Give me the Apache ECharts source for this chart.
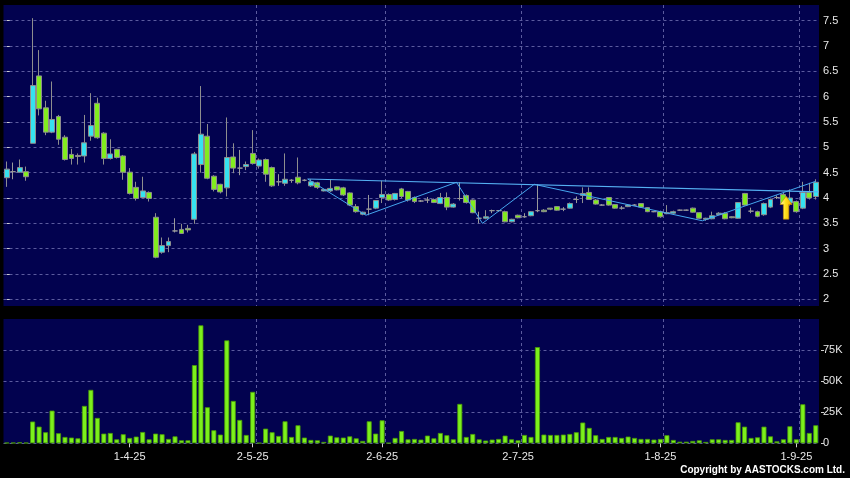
<!DOCTYPE html>
<html><head><meta charset="utf-8">
<script src="https://cdn.jsdelivr.net/npm/echarts@6/dist/echarts.min.js"></script>
<style>html,body{margin:0;padding:0;background:#000;}#c{width:850px;height:478px;}</style>
</head><body><div id="c"></div>
<script>
// ---- trading days (day numbers per month, 2025) ----
const marDays=[5,6,7,10,11,12,13,14,17,18,19,20,21,24,25,26,27,28,31];
const aprDays=[1,2,3,7,8,9,10,11,14,15,16,17,22,23,24,25,28,29,30];
const mayDays=[2,6,7,8,9,12,13,14,15,16,19,20,21,22,23,26,27,28,29,30];
const junDays=[2,3,4,5,6,9,10,11,12,13,16,17,18,19,20,23,24,25,26,27,30];
const julDays=[2,3,4,7,8,9,10,11,14,15,16,17,18,21,22,23,24,25,28,29,30,31];
const augDays=[1,4,5,6,7,8,11,12,13,14,15,18,19,20,21,22,25,26,27,28,29];
const sepDays=[1,2,3,4];
const tickLabels=['1-4-25','2-5-25','2-6-25','2-7-25','1-8-25','1-9-25'];
const priceTicks=[2,2.5,3,3.5,4,4.5,5,5.5,6,6.5,7,7.5];
const volumeTicks=[0,25000,50000,75000];

// ---- OHLC ----
const open=[4.40,4.52,4.51,4.52,5.08,6.41,5.78,5.30,5.61,5.20,
4.86,4.84,4.83,5.22,5.87,5.28,4.78,4.96,4.83,4.51,
4.21,4.01,4.11,3.62,2.93,3.06,3.35,3.38,3.40,3.58,
4.66,5.22,4.43,4.27,4.20,4.81,4.59,4.62,4.88,4.63,
4.76,4.60,4.32,4.29,4.35,4.41,4.35,4.24,4.30,4.14,
4.14,4.22,4.20,4.10,3.83,3.68,3.78,3.80,4.01,4.07,
3.97,4.18,4.13,4.01,3.94,3.96,3.97,3.89,4.01,3.82,
3.99,4.05,3.96,3.60,3.60,3.75,3.75,3.73,3.53,3.66,
3.63,3.65,3.75,3.76,3.80,3.83,3.78,3.80,3.97,4.05,
4.11,3.96,3.86,4.01,3.87,3.80,3.83,3.86,3.89,3.81,
3.73,3.73,3.69,3.70,3.76,3.76,3.80,3.71,3.58,3.59,
3.67,3.70,3.63,3.60,4.09,3.74,3.73,3.67,3.82,4.01,
4.07,3.90,3.93,3.80,4.11,4.03];
const close=[4.57,4.52,4.60,4.42,6.22,5.76,5.30,5.55,5.16,4.76,
4.78,4.82,5.09,5.43,5.19,4.78,4.87,4.80,4.51,4.09,
3.99,4.14,3.99,2.83,3.06,3.14,3.35,3.30,3.37,4.87,
5.26,4.39,4.17,4.12,4.80,4.59,4.59,4.66,4.68,4.75,
4.47,4.24,4.32,4.37,4.35,4.30,4.35,4.32,4.21,4.17,
4.19,4.16,4.06,3.86,3.73,3.72,3.78,3.95,4.07,3.96,
4.09,4.03,3.96,3.93,3.94,3.96,3.91,4.01,3.82,3.88,
3.99,3.91,3.71,3.60,3.63,3.75,3.75,3.53,3.58,3.61,
3.63,3.73,3.75,3.73,3.78,3.76,3.78,3.89,3.97,4.09,
3.97,3.88,3.86,3.86,3.80,3.80,3.86,3.86,3.82,3.73,
3.73,3.63,3.71,3.73,3.76,3.76,3.72,3.60,3.60,3.65,
3.70,3.59,3.61,3.91,3.86,3.74,3.64,3.89,3.97,4.01,
3.89,4.00,3.73,4.11,4.00,4.31];
const low=[4.22,4.37,4.50,4.34,5.08,5.63,5.24,5.28,5.05,4.74,
4.66,4.66,4.70,5.13,5.17,4.66,4.76,4.78,4.36,4.07,
3.95,4.00,3.93,2.81,2.90,2.93,3.32,3.29,3.32,3.49,
4.50,4.37,4.13,4.09,4.03,4.49,4.45,4.55,4.66,4.58,
4.32,4.22,4.24,4.24,4.30,4.27,4.33,4.22,4.18,4.13,
4.12,4.15,4.04,3.84,3.71,3.66,3.66,3.78,3.90,3.94,
3.95,4.00,3.93,3.90,3.92,3.90,3.90,3.88,3.76,3.81,
3.95,3.89,3.70,3.50,3.58,3.70,3.73,3.52,3.52,3.60,
3.61,3.64,3.72,3.72,3.76,3.75,3.74,3.79,3.90,3.90,
3.96,3.87,3.85,3.85,3.79,3.77,3.82,3.85,3.81,3.72,
3.72,3.61,3.68,3.69,3.75,3.75,3.71,3.59,3.55,3.58,
3.66,3.58,3.60,3.59,3.85,3.70,3.62,3.65,3.80,3.98,
3.88,3.85,3.71,3.78,3.97,3.97];
const high=[4.72,4.70,4.76,4.62,7.55,6.92,5.92,6.30,5.64,5.24,
4.97,4.88,5.64,6.07,5.98,5.30,5.16,4.97,4.85,4.59,
4.32,4.42,4.13,3.70,3.22,3.22,3.60,3.49,3.47,4.91,
6.21,5.46,4.45,4.28,5.59,5.08,4.95,4.72,5.34,4.78,
4.78,4.62,4.47,4.88,4.37,4.80,4.37,4.37,4.32,4.18,
4.36,4.23,4.22,4.11,3.88,3.73,4.06,3.96,4.34,4.09,
4.10,4.20,4.14,4.03,3.96,4.02,3.99,4.10,4.11,3.90,
4.31,4.07,3.97,3.73,3.76,3.77,3.76,3.75,3.59,3.67,
3.70,3.74,4.27,3.78,3.80,3.84,3.82,3.91,4.03,4.21,
4.21,3.98,3.88,4.02,3.88,3.84,3.88,3.88,3.90,3.82,
3.74,3.75,3.86,3.75,3.77,3.77,3.81,3.72,3.61,3.73,
3.72,3.72,3.64,3.92,4.10,3.81,3.75,3.91,3.99,4.05,
4.10,4.17,3.95,4.32,4.30,4.37];
const volume=[500,500,800,500,17500,13400,8900,26300,8100,5100,
4600,4000,30100,43000,20400,7800,8300,3200,7300,4300,
5400,9100,3200,7800,7300,3500,5600,2400,2400,62900,
94900,29000,10500,7000,82800,34100,18800,6700,41400,300,
11800,8900,5900,17700,5100,14500,4600,2700,2400,1100,
6200,4800,4600,5600,4000,1900,17700,7800,18500,300,
4300,9900,3200,3500,3000,6200,4000,8300,6500,3200,
31700,5100,7500,3200,2200,3000,3500,6200,3200,2400,
6700,5100,77400,7000,6700,6700,7000,7500,8900,16700,
12400,6500,3500,5100,5100,4300,5400,4300,3500,3500,
3000,3500,6500,2700,1300,1300,1900,2400,1100,3200,
3200,2700,2700,16900,13400,4300,4800,13400,5600,1600,
3200,13700,3200,31400,8300,14500];

// ---- pattern lines (x in trading-day index units) ----
const zigzagX=[46.5,55.5,69.5,73.5,81.5,107.5,125];
const zigzagY=[4.375,3.66,4.31,3.50,4.27,3.55,4.33];
const trendX=[46.5,125.5];
const trendY=[4.375,4.12];
// ---- buy signal ----
const signalDates=['28-8-25'];
const signalValues=[3.81];

// ---- build ----
const months=[[3,marDays],[4,aprDays],[5,mayDays],[6,junDays],[7,julDays],[8,augDays],[9,sepDays]];
const dates=[];
months.forEach(([m,days])=>days.forEach(d=>dates.push(d+'-'+m+'-25')));
const N=dates.length;
const ohlc=dates.map((d,i)=>[open[i],close[i],low[i],high[i]]);
const labelIdx=tickLabels.map(t=>dates.indexOf(t));

const FONT='"Liberation Sans", Arial, sans-serif';
const NAVY='#02024f';
const GRIDC='#5b5b9e';
const gl={left:3.5,right:31};
const splitStyle={show:true,showMinLine:false,showMaxLine:false,interval:(i)=>i>0&&labelIdx.includes(i-1),lineStyle:{color:GRIDC,type:[3,3],width:1}};

const chart=echarts.init(document.getElementById('c'),null,{renderer:'canvas'});
chart.setOption({
  animation:false,
  backgroundColor:'#000',
  textStyle:{fontFamily:FONT},
  grid:[
    Object.assign({top:5,height:301,show:true,backgroundColor:NAVY,borderWidth:0,containLabel:false,outerBoundsMode:'none'},gl),
    Object.assign({top:319,height:124.3,show:true,backgroundColor:NAVY,borderWidth:0,containLabel:false,outerBoundsMode:'none'},gl)
  ],
  xAxis:[
    {type:'category',gridIndex:0,data:dates,boundaryGap:true,axisLine:{show:false},axisTick:{show:false},axisLabel:{show:false},splitLine:splitStyle},
    {type:'category',gridIndex:1,data:dates,boundaryGap:true,offset:2,axisLine:{show:false},
     axisTick:{show:true,alignWithLabel:true,length:4,interval:(i)=>labelIdx.includes(i),lineStyle:{color:'#d0d0d0'}},
     axisLabel:{show:true,interval:(i)=>labelIdx.includes(i),color:'#e8e8e8',fontSize:11,fontFamily:FONT,margin:6},
     splitLine:splitStyle},
    {type:'value',gridIndex:0,min:-0.5,max:N-0.5,show:false}
  ],
  yAxis:[
    {type:'value',gridIndex:0,position:'right',min:1.868,max:7.81,offset:2,scale:true,
     axisLine:{show:false},
     axisTick:{show:true,length:3,customValues:priceTicks,lineStyle:{color:'#d0d0d0'}},
     axisLabel:{show:true,customValues:priceTicks,color:'#e8e8e8',fontSize:11,fontFamily:FONT,margin:2},
     splitLine:{show:true,lineStyle:{color:GRIDC,type:[3,3],width:1}}},
    {type:'value',gridIndex:1,position:'right',min:0,max:100000,offset:2,
     axisLine:{show:false},
     axisTick:{show:true,length:3,customValues:volumeTicks,lineStyle:{color:'#d0d0d0'}},
     axisLabel:{show:true,customValues:volumeTicks,color:'#e8e8e8',fontSize:11,fontFamily:FONT,margin:2,
       formatter:v=>v===0?'0':(v/1000)+'K'},
     splitLine:{show:true,lineStyle:{color:GRIDC,type:[3,3],width:1}}}
  ],
  series:[
    {type:'candlestick',xAxisIndex:0,yAxisIndex:0,data:ohlc,barWidth:5.4,
     itemStyle:{color:'#36e2f0',color0:'#82ec1e',borderColor:'#8e8e8e',borderColor0:'#8e8e8e',borderColorDoji:'#9a9a9a',borderWidth:1}},
    {type:'line',xAxisIndex:2,yAxisIndex:0,data:zigzagX.map((x,i)=>[x,zigzagY[i]]),symbol:'none',silent:true,z:3,
     lineStyle:{color:'#45a6ee',width:1}},
    {type:'line',xAxisIndex:2,yAxisIndex:0,data:trendX.map((x,i)=>[x,trendY[i]]),symbol:'none',silent:true,z:3,
     lineStyle:{color:'#55b0f2',width:1.2}},
    {type:'scatter',xAxisIndex:0,yAxisIndex:0,data:signalDates.map((d,i)=>[d,signalValues[i]]),z:5,silent:true,
     symbol:'path://M5.5,0 L11,8 L8,8 L8,22 L3,22 L3,8 L0,8 Z',symbolSize:[12,23],symbolKeepAspect:false,symbolOffset:[2.7,0],
     itemStyle:{opacity:1,color:new echarts.graphic.LinearGradient(0,0,1,0,[{offset:0,color:'#fffbc0'},{offset:0.45,color:'#ffe01a'},{offset:1,color:'#f0a800'}]),borderColor:'#c88a00',borderWidth:0.6}},
    {type:'bar',xAxisIndex:1,yAxisIndex:1,data:volume,barWidth:5,
     itemStyle:{color:'#7cf01c',borderColor:'#4a9a06',borderWidth:0.8}}
  ],
  graphic:[
    {type:'text',right:5,top:465,style:{text:'Copyright by AASTOCKS.com Ltd.',fill:'#ffffff',fontSize:10,fontWeight:'bold',fontFamily:FONT}}
  ]
});
</script></body></html>
